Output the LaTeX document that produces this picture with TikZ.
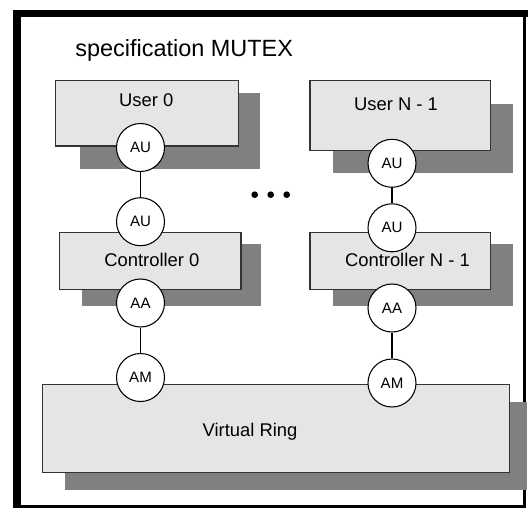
\documentclass[tikz,border=0pt]{standalone}
\usepackage{fontspec}
\setmainfont{Liberation Sans}
\definecolor{boxgray}{gray}{0.90}
\definecolor{shadowgray}{gray}{0.50}
\definecolor{boxline}{gray}{0.20}
\tikzset{
  framebar/.style={fill=black},
  shadowbox/.style={fill=shadowgray},
  box/.style={draw=boxline, fill=boxgray, line width=0.8pt, inner sep=0pt},
  port/.style={circle, draw=black, fill=white, line width=0.8pt,
    minimum size=36pt, inner sep=0pt, font=\fontsize{11.3}{13}\selectfont},
  lbl/.style={font=\fontsize{13.8}{16}\selectfont, inner sep=0pt, anchor=base},
  link/.style={draw=black, line width=1pt},
}
\begin{document}
\begin{tikzpicture}[x=0.75pt, y=-0.75pt]
\useasboundingbox (0,0) rectangle (528,508);

% outer frame
\fill[framebar] (13,10) rectangle (528,17);
\fill[framebar] (13,10) rectangle (20.5,508);
\fill[framebar] (522.8,10) rectangle (526.2,508);
\fill[framebar] (13,505.3) rectangle (526.2,508);

\node[anchor=base west, inner sep=0pt, font=\fontsize{17.6}{20}\selectfont]
  (title) at (75,56.7) {specification MUTEX};

% drop shadows
\fill[shadowbox] (80,92.5) rectangle (260,168.5);
\fill[shadowbox] (333,103.5) rectangle (513,172.5);
\fill[shadowbox] (82,244) rectangle (261,306);
\fill[shadowbox] (333,243.5) rectangle (513,306);
\fill[shadowbox] (65,402.3) rectangle (526.5,489.6);

% process boxes
\node[box, minimum width={182.7*0.75pt}, minimum height={65.2*0.75pt}] (user0) at (147,113.4) {};
\node[box, minimum width={180.7*0.75pt}, minimum height={69.7*0.75pt}] (userN) at (400.35,115.35) {};
\node[box, minimum width={181.1*0.75pt}, minimum height={57*0.75pt}] (ctrl0) at (150.45,261) {};
\node[box, minimum width={180.6*0.75pt}, minimum height={57*0.75pt}] (ctrlN) at (400.3,261.2) {};
\node[box, minimum width={467.1*0.75pt}, minimum height={88.3*0.75pt}] (ring) at (275.75,428.65) {};

\node[lbl] (user0txt) at (146.3,106.7) {User 0};
\node[lbl] (userNtxt) at (396,110.7) {User N - 1};
\node[lbl] (ctrl0txt) at (151.9,266.7) {Controller 0};
\node[lbl] (ctrlNtxt) at (407.4,266.7) {Controller N - 1};
\node[lbl] (ringtxt) at (250,436.9) {Virtual Ring};

% ports
\node[port] (au0a) at (140.5,147.5) {AU};
\node[port] (au0b) at (140.5,221.7) {AU};
\node[port] (aa0) at (140.5,303) {AA};
\node[port] (am0) at (140.5,377.5) {AM};
\node[port] (auNa) at (392,163.3) {AU};
\node[port] (auNb) at (392,227.8) {AU};
\node[port] (aaN) at (392,308) {AA};
\node[port] (amN) at (392,383) {AM};

% channels
\draw[link] (au0a) -- (au0b);
\draw[link] (aa0) -- (am0);
\draw[link] (auNa) -- (auNb);
\draw[link] (aaN) -- (amN);

% ellipsis between the columns
\fill (254.7,194.7) circle[radius=2.5pt];
\fill (270.7,194.7) circle[radius=2.5pt];
\fill (286.7,194.7) circle[radius=2.5pt];
\end{tikzpicture}
\end{document}
